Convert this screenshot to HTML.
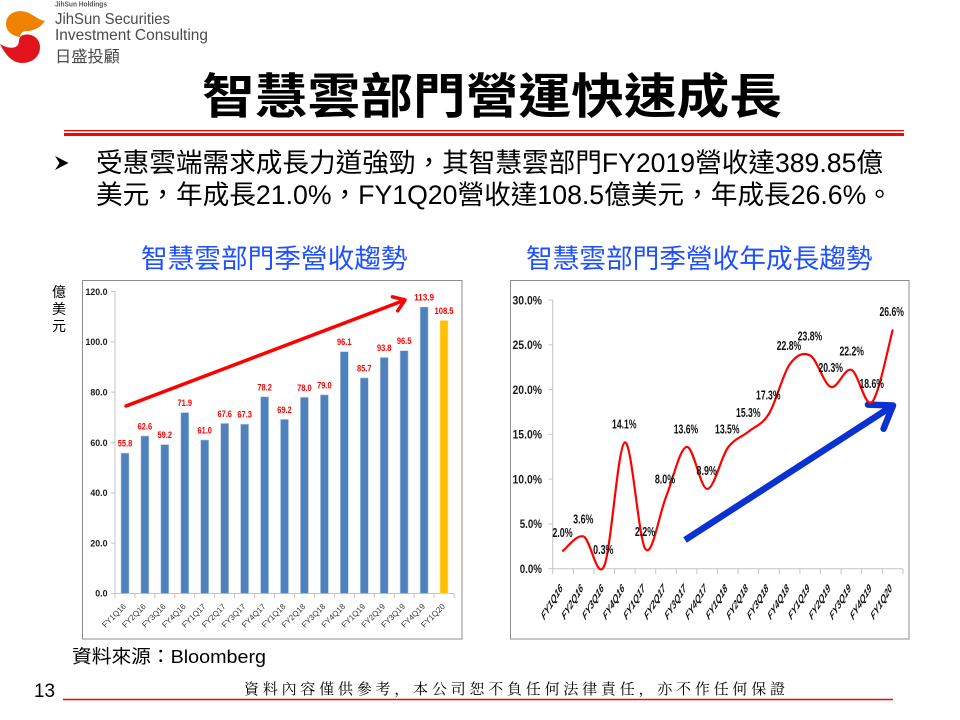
<!DOCTYPE html>
<html>
<head>
<meta charset="utf-8">
<style>
  html,body{margin:0;padding:0;background:#fff;}
  body{width:960px;height:720px;overflow:hidden;}
  svg{display:block;}
  .cjk{font-family:"Liberation Sans","Noto Sans CJK TC",sans-serif;}
</style>
</head>
<body>
<svg width="960" height="720" viewBox="0 0 960 720" xmlns="http://www.w3.org/2000/svg">
  <rect x="0" y="0" width="960" height="720" fill="#ffffff"/>

  <!-- Logo -->
  <path d="M6,24 C6,14 16,9 26,12 C33,14 38,20 45,21 C41,27 34,31 27,31 C22,31 20,34 20,37 C12,36 6,31 6,24 Z" fill="#EF8200"/>
  <path d="M21,36 C28,32 40,36 40,47 C40,57 32,63 22,63 C13,63 6,56 0,44 C7,48 13,49 17,46 C20,43 18,39 21,36 Z" fill="#E1141E"/>
  <text x="55" y="6.5" font-family="Liberation Sans, sans-serif" font-size="7" font-weight="bold" fill="#555" textLength="52" lengthAdjust="spacingAndGlyphs">JihSun Holdings</text>
  <text x="55" y="24" font-family="Liberation Sans, sans-serif" font-size="16" fill="#4a4a4a" textLength="115" lengthAdjust="spacingAndGlyphs">JihSun Securities</text>
  <text x="55" y="40" font-family="Liberation Sans, sans-serif" font-size="16" fill="#4a4a4a" textLength="153" lengthAdjust="spacingAndGlyphs">Investment Consulting</text>
  <text x="55" y="62" class="cjk" font-size="16" fill="#4a4a4a" textLength="65" lengthAdjust="spacingAndGlyphs">日盛投顧</text>

  <!-- Title -->
  <text x="202" y="113" class="cjk" font-size="48" font-weight="bold" fill="#000" textLength="580" lengthAdjust="spacingAndGlyphs">智慧雲部門營運快速成長</text>
  <line x1="64" y1="130.6" x2="904" y2="130.6" stroke="#FF0000" stroke-width="1.3"/>
  <line x1="64" y1="134.5" x2="904" y2="134.5" stroke="#FF0000" stroke-width="3"/>

  <!-- Bullet -->
  <polygon points="55,156 68.5,163 55,170 59.5,163" fill="#000"/>
  <text x="96" y="172" class="cjk" font-size="26.67" fill="#000" textLength="787" lengthAdjust="spacingAndGlyphs">受惠雲端需求成長力道強勁，其智慧雲部門FY2019營收達389.85億</text>
  <text x="96" y="204" class="cjk" font-size="26.67" fill="#000">美元，年成長21.0%，FY1Q20營收達108.5億美元，年成長26.6%。</text>

  <!-- Chart titles -->
  <text x="141" y="268" class="cjk" font-size="26.67" fill="#1F50FF">智慧雲部門季營收趨勢</text>
  <text x="526" y="268" class="cjk" font-size="26.67" fill="#1F50FF">智慧雲部門季營收年成長趨勢</text>

  <!-- ============ LEFT CHART ============ -->
  <rect x="82.5" y="280.5" width="379.5" height="358.5" fill="#fff" stroke="#8c8c8c" stroke-width="1"/>
  <text x="59" y="297" class="cjk" font-size="14" text-anchor="middle" fill="#000">億</text>
  <text x="59" y="314" class="cjk" font-size="14" text-anchor="middle" fill="#000">美</text>
  <text x="59" y="331" class="cjk" font-size="14" text-anchor="middle" fill="#000">元</text>

  <g stroke="#c4c4c4" stroke-width="1">
    <line x1="115" y1="291" x2="115" y2="593.5"/>
    <line x1="115" y1="593.5" x2="454" y2="593.5"/>
    <line x1="111" y1="291.6" x2="115" y2="291.6"/>
    <line x1="111" y1="341.9" x2="115" y2="341.9"/>
    <line x1="111" y1="392.2" x2="115" y2="392.2"/>
    <line x1="111" y1="442.6" x2="115" y2="442.6"/>
    <line x1="111" y1="492.9" x2="115" y2="492.9"/>
    <line x1="111" y1="543.2" x2="115" y2="543.2"/>
    <line x1="111" y1="593.5" x2="115" y2="593.5"/>
    <line x1="115" y1="593.5" x2="115" y2="598"/>
    <line x1="134.94" y1="593.5" x2="134.94" y2="598"/>
    <line x1="154.88" y1="593.5" x2="154.88" y2="598"/>
    <line x1="174.82" y1="593.5" x2="174.82" y2="598"/>
    <line x1="194.76" y1="593.5" x2="194.76" y2="598"/>
    <line x1="214.7" y1="593.5" x2="214.7" y2="598"/>
    <line x1="234.64" y1="593.5" x2="234.64" y2="598"/>
    <line x1="254.58" y1="593.5" x2="254.58" y2="598"/>
    <line x1="274.52" y1="593.5" x2="274.52" y2="598"/>
    <line x1="294.46" y1="593.5" x2="294.46" y2="598"/>
    <line x1="314.4" y1="593.5" x2="314.4" y2="598"/>
    <line x1="334.34" y1="593.5" x2="334.34" y2="598"/>
    <line x1="354.28" y1="593.5" x2="354.28" y2="598"/>
    <line x1="374.22" y1="593.5" x2="374.22" y2="598"/>
    <line x1="394.16" y1="593.5" x2="394.16" y2="598"/>
    <line x1="414.1" y1="593.5" x2="414.1" y2="598"/>
    <line x1="434.04" y1="593.5" x2="434.04" y2="598"/>
    <line x1="454" y1="593.5" x2="454" y2="598"/>
  </g>

  <g font-family="Liberation Sans, sans-serif" font-size="8.8" font-weight="bold" fill="#1a1a1a" text-anchor="end">
    <text x="107.5" y="294.8">120.0</text>
    <text x="107.5" y="345.1">100.0</text>
    <text x="107.5" y="395.4">80.0</text>
    <text x="107.5" y="445.8">60.0</text>
    <text x="107.5" y="496.1">40.0</text>
    <text x="107.5" y="546.4">20.0</text>
    <text x="107.5" y="596.7">0.0</text>
  </g>

  <!-- Bars -->
  <g fill="#4F81BD" stroke="#b8cce4" stroke-width="0.6">
    <rect x="121" y="453.1" width="8" height="140.4"/>
    <rect x="140.9" y="436.0" width="8" height="157.5"/>
    <rect x="160.8" y="444.6" width="8" height="148.9"/>
    <rect x="180.8" y="412.6" width="8" height="180.9"/>
    <rect x="200.7" y="440.0" width="8" height="153.5"/>
    <rect x="220.7" y="423.4" width="8" height="170.1"/>
    <rect x="240.6" y="424.2" width="8" height="169.3"/>
    <rect x="260.6" y="396.8" width="8" height="196.7"/>
    <rect x="280.5" y="419.4" width="8" height="174.1"/>
    <rect x="300.4" y="397.3" width="8" height="196.2"/>
    <rect x="320.4" y="394.8" width="8" height="198.7"/>
    <rect x="340.3" y="351.7" width="8" height="241.8"/>
    <rect x="360.3" y="377.9" width="8" height="215.6"/>
    <rect x="380.2" y="357.5" width="8" height="236.0"/>
    <rect x="400.1" y="350.7" width="8" height="242.8"/>
    <rect x="420.1" y="307.0" width="8" height="286.5"/>
  </g>
  <rect x="440" y="320.5" width="8" height="273" fill="#FFC000" stroke="#ffe08a" stroke-width="0.6"/>

  <!-- Left data labels -->
  <g font-family="Liberation Sans, sans-serif" font-size="9" font-weight="bold" fill="#FF0000" text-anchor="middle">
    <text x="125.0" y="446.6" textLength="14.5" lengthAdjust="spacingAndGlyphs">55.8</text>
    <text x="144.9" y="429.5" textLength="14.5" lengthAdjust="spacingAndGlyphs">62.6</text>
    <text x="164.8" y="438.1" textLength="14.5" lengthAdjust="spacingAndGlyphs">59.2</text>
    <text x="184.8" y="406.1" textLength="14.5" lengthAdjust="spacingAndGlyphs">71.9</text>
    <text x="204.7" y="433.5" textLength="14.5" lengthAdjust="spacingAndGlyphs">61.0</text>
    <text x="224.7" y="416.9" textLength="14.5" lengthAdjust="spacingAndGlyphs">67.6</text>
    <text x="244.6" y="417.7" textLength="14.5" lengthAdjust="spacingAndGlyphs">67.3</text>
    <text x="264.6" y="390.3" textLength="14.5" lengthAdjust="spacingAndGlyphs">78.2</text>
    <text x="284.5" y="412.9" textLength="14.5" lengthAdjust="spacingAndGlyphs">69.2</text>
    <text x="304.4" y="390.8" textLength="14.5" lengthAdjust="spacingAndGlyphs">78.0</text>
    <text x="324.4" y="388.3" textLength="14.5" lengthAdjust="spacingAndGlyphs">79.0</text>
    <text x="344.3" y="345.2" textLength="14.5" lengthAdjust="spacingAndGlyphs">96.1</text>
    <text x="364.3" y="371.4" textLength="14.5" lengthAdjust="spacingAndGlyphs">85.7</text>
    <text x="384.2" y="351.0" textLength="14.5" lengthAdjust="spacingAndGlyphs">93.8</text>
    <text x="404.1" y="344.2" textLength="14.5" lengthAdjust="spacingAndGlyphs">96.5</text>
    <text x="424.1" y="300.5" textLength="20" lengthAdjust="spacingAndGlyphs">113.9</text>
    <text x="444.0" y="314.0" textLength="19" lengthAdjust="spacingAndGlyphs">108.5</text>
  </g>

  <!-- Left x labels -->
  <g font-family="Liberation Sans, sans-serif" font-size="8" fill="#333" text-anchor="end">
    <text transform="translate(126.5,607) rotate(-45)">FY1Q16</text>
    <text transform="translate(146.4,607) rotate(-45)">FY2Q16</text>
    <text transform="translate(166.3,607) rotate(-45)">FY3Q16</text>
    <text transform="translate(186.3,607) rotate(-45)">FY4Q16</text>
    <text transform="translate(206.2,607) rotate(-45)">FY1Q17</text>
    <text transform="translate(226.2,607) rotate(-45)">FY2Q17</text>
    <text transform="translate(246.1,607) rotate(-45)">FY3Q17</text>
    <text transform="translate(266.1,607) rotate(-45)">FY4Q17</text>
    <text transform="translate(286.0,607) rotate(-45)">FY1Q18</text>
    <text transform="translate(305.9,607) rotate(-45)">FY2Q18</text>
    <text transform="translate(325.9,607) rotate(-45)">FY3Q18</text>
    <text transform="translate(345.8,607) rotate(-45)">FY4Q18</text>
    <text transform="translate(365.8,607) rotate(-45)">FY1Q19</text>
    <text transform="translate(385.7,607) rotate(-45)">FY2Q19</text>
    <text transform="translate(405.6,607) rotate(-45)">FY3Q19</text>
    <text transform="translate(425.6,607) rotate(-45)">FY4Q19</text>
    <text transform="translate(445.5,607) rotate(-45)">FY1Q20</text>
  </g>

  <!-- Left red arrow -->
  <g stroke="#FF0000" stroke-width="3.5" fill="none" stroke-linecap="round" stroke-linejoin="round">
    <line x1="126" y1="406" x2="403" y2="300.8"/>
    <polyline points="392.4,296.8 405,300 397.7,310.8"/>
  </g>

  <!-- ============ RIGHT CHART ============ -->
  <rect x="510.5" y="280.5" width="398.5" height="358.5" fill="#fff" stroke="#8c8c8c" stroke-width="1"/>

  <g stroke="#c4c4c4" stroke-width="1">
    <line x1="552.7" y1="300" x2="552.7" y2="568.7"/>
    <line x1="552.7" y1="568.7" x2="903" y2="568.7"/>
    <line x1="548.5" y1="300" x2="552.7" y2="300"/>
    <line x1="548.5" y1="344.8" x2="552.7" y2="344.8"/>
    <line x1="548.5" y1="389.6" x2="552.7" y2="389.6"/>
    <line x1="548.5" y1="434.3" x2="552.7" y2="434.3"/>
    <line x1="548.5" y1="479.1" x2="552.7" y2="479.1"/>
    <line x1="548.5" y1="523.9" x2="552.7" y2="523.9"/>
    <line x1="548.5" y1="568.7" x2="552.7" y2="568.7"/>
    <line x1="552.7" y1="568.7" x2="552.7" y2="574"/>
    <line x1="573.3" y1="568.7" x2="573.3" y2="574"/>
    <line x1="593.9" y1="568.7" x2="593.9" y2="574"/>
    <line x1="614.5" y1="568.7" x2="614.5" y2="574"/>
    <line x1="635.1" y1="568.7" x2="635.1" y2="574"/>
    <line x1="655.7" y1="568.7" x2="655.7" y2="574"/>
    <line x1="676.3" y1="568.7" x2="676.3" y2="574"/>
    <line x1="696.9" y1="568.7" x2="696.9" y2="574"/>
    <line x1="717.5" y1="568.7" x2="717.5" y2="574"/>
    <line x1="738.1" y1="568.7" x2="738.1" y2="574"/>
    <line x1="758.7" y1="568.7" x2="758.7" y2="574"/>
    <line x1="779.3" y1="568.7" x2="779.3" y2="574"/>
    <line x1="799.9" y1="568.7" x2="799.9" y2="574"/>
    <line x1="820.5" y1="568.7" x2="820.5" y2="574"/>
    <line x1="841.1" y1="568.7" x2="841.1" y2="574"/>
    <line x1="861.7" y1="568.7" x2="861.7" y2="574"/>
    <line x1="882.3" y1="568.7" x2="882.3" y2="574"/>
    <line x1="903" y1="568.7" x2="903" y2="574"/>
  </g>

  <g font-family="Liberation Sans, sans-serif" font-size="12" font-weight="bold" fill="#1a1a1a" text-anchor="end">
    <text x="542" y="304.3" textLength="29.5" lengthAdjust="spacingAndGlyphs">30.0%</text>
    <text x="542" y="349.1" textLength="29.5" lengthAdjust="spacingAndGlyphs">25.0%</text>
    <text x="542" y="393.9" textLength="29.5" lengthAdjust="spacingAndGlyphs">20.0%</text>
    <text x="542" y="438.6" textLength="29.5" lengthAdjust="spacingAndGlyphs">15.0%</text>
    <text x="542" y="483.4" textLength="29.5" lengthAdjust="spacingAndGlyphs">10.0%</text>
    <text x="542" y="528.2" textLength="22.3" lengthAdjust="spacingAndGlyphs">5.0%</text>
    <text x="542" y="573.0" textLength="22.3" lengthAdjust="spacingAndGlyphs">0.0%</text>
  </g>

  <!-- Blue arrow -->
  <g stroke="#0A32D2" stroke-width="6.5" fill="none" stroke-linecap="butt" stroke-linejoin="round">
    <line x1="685" y1="540" x2="890" y2="407.5"/>
    <polyline points="868,404.6 893,405.5 883.6,428.7" stroke-linecap="round"/>
  </g>

  <!-- Red smooth line -->
  <path d="M563,550.8
    C566.43,548.42 576.73,533.97 583.6,536.5
    C590.47,539.03 597.33,581.68 604.2,566.0
    C611.07,550.32 617.93,445.23 624.8,442.4
    C631.67,439.57 638.53,539.9 645.4,549.0
    C652.27,558.1 659.13,514.02 666.0,497.0
    C672.87,479.98 679.73,448.23 686.6,446.9
    C693.47,445.57 700.33,488.85 707.2,489.0
    C714.07,489.15 720.93,457.35 727.8,447.8
    C734.67,438.25 741.53,437.38 748.4,431.7
    C755.27,426.02 762.13,424.9 769.0,413.7
    C775.87,402.5 782.73,374.2 789.6,364.5
    C796.47,354.8 803.33,351.77 810.2,355.5
    C817.07,359.23 823.93,384.5 830.8,386.9
    C837.67,389.3 844.53,367.37 851.4,369.9
    C858.27,372.43 865.13,408.68 872.0,402.1
    C878.87,395.52 889.17,342.35 892.6,330.4"
    fill="none" stroke="#FF0000" stroke-width="2.2" stroke-linejoin="round" stroke-linecap="round"/>

  <!-- Right data labels -->
  <g font-family="Liberation Sans, sans-serif" font-size="12.5" font-weight="bold" fill="#111" text-anchor="middle">
    <text x="562.5" y="537.2" textLength="20.3" lengthAdjust="spacingAndGlyphs">2.0%</text>
    <text x="583.3" y="523.5" textLength="20.3" lengthAdjust="spacingAndGlyphs">3.6%</text>
    <text x="603.3" y="553.8" textLength="20.3" lengthAdjust="spacingAndGlyphs">0.3%</text>
    <text x="624.3" y="428.5" textLength="24.5" lengthAdjust="spacingAndGlyphs">14.1%</text>
    <text x="645.0" y="536.2" textLength="20.3" lengthAdjust="spacingAndGlyphs">2.2%</text>
    <text x="665.0" y="483.5" textLength="20.3" lengthAdjust="spacingAndGlyphs">8.0%</text>
    <text x="686.0" y="433.5" textLength="24.5" lengthAdjust="spacingAndGlyphs">13.6%</text>
    <text x="706.7" y="475.2" textLength="20.3" lengthAdjust="spacingAndGlyphs">8.9%</text>
    <text x="727.3" y="433.5" textLength="24.5" lengthAdjust="spacingAndGlyphs">13.5%</text>
    <text x="748.3" y="416.8" textLength="24.5" lengthAdjust="spacingAndGlyphs">15.3%</text>
    <text x="768.3" y="399.5" textLength="24.5" lengthAdjust="spacingAndGlyphs">17.3%</text>
    <text x="789.0" y="350.2" textLength="24.5" lengthAdjust="spacingAndGlyphs">22.8%</text>
    <text x="810.0" y="340.5" textLength="24.5" lengthAdjust="spacingAndGlyphs">23.8%</text>
    <text x="830.7" y="372.2" textLength="24.5" lengthAdjust="spacingAndGlyphs">20.3%</text>
    <text x="851.7" y="355.5" textLength="24.5" lengthAdjust="spacingAndGlyphs">22.2%</text>
    <text x="871.7" y="387.8" textLength="24.5" lengthAdjust="spacingAndGlyphs">18.6%</text>
    <text x="891.7" y="316.2" textLength="24.5" lengthAdjust="spacingAndGlyphs">26.6%</text>
  </g>

  <!-- Right x labels -->
  <g font-family="Liberation Sans, sans-serif" font-size="12" font-weight="bold" font-style="italic" fill="#111" text-anchor="end">
    <text transform="translate(563,589) scale(0.6,1) rotate(-45)">FY1Q16</text>
    <text transform="translate(583.6,589) scale(0.6,1) rotate(-45)">FY2Q16</text>
    <text transform="translate(604.2,589) scale(0.6,1) rotate(-45)">FY3Q16</text>
    <text transform="translate(624.8,589) scale(0.6,1) rotate(-45)">FY4Q16</text>
    <text transform="translate(645.4,589) scale(0.6,1) rotate(-45)">FY1Q17</text>
    <text transform="translate(666.0,589) scale(0.6,1) rotate(-45)">FY2Q17</text>
    <text transform="translate(686.6,589) scale(0.6,1) rotate(-45)">FY3Q17</text>
    <text transform="translate(707.2,589) scale(0.6,1) rotate(-45)">FY4Q17</text>
    <text transform="translate(727.8,589) scale(0.6,1) rotate(-45)">FY1Q18</text>
    <text transform="translate(748.4,589) scale(0.6,1) rotate(-45)">FY2Q18</text>
    <text transform="translate(769.0,589) scale(0.6,1) rotate(-45)">FY3Q18</text>
    <text transform="translate(789.6,589) scale(0.6,1) rotate(-45)">FY4Q18</text>
    <text transform="translate(810.2,589) scale(0.6,1) rotate(-45)">FY1Q19</text>
    <text transform="translate(830.8,589) scale(0.6,1) rotate(-45)">FY2Q19</text>
    <text transform="translate(851.4,589) scale(0.6,1) rotate(-45)">FY3Q19</text>
    <text transform="translate(872.0,589) scale(0.6,1) rotate(-45)">FY4Q19</text>
    <text transform="translate(892.6,589) scale(0.6,1) rotate(-45)">FY1Q20</text>
  </g>

  <!-- Source -->
  <text x="72" y="663" class="cjk" font-size="18.67" fill="#000" textLength="194" lengthAdjust="spacingAndGlyphs">資料來源：Bloomberg</text>

  <!-- Footer -->
  <text x="34" y="697" font-family="Liberation Sans, sans-serif" font-size="19" fill="#000" textLength="21" lengthAdjust="spacingAndGlyphs">13</text>
  <text x="244" y="694" font-family="Liberation Serif, 'Noto Serif CJK SC', serif" font-size="15" fill="#000" textLength="541" lengthAdjust="spacing">資料內容僅供參考，本公司恕不負任何法律責任，亦不作任何保證</text>
  <line x1="63" y1="699.5" x2="893" y2="699.5" stroke="#FF0000" stroke-width="1.5"/>
</svg>
</body>
</html>
